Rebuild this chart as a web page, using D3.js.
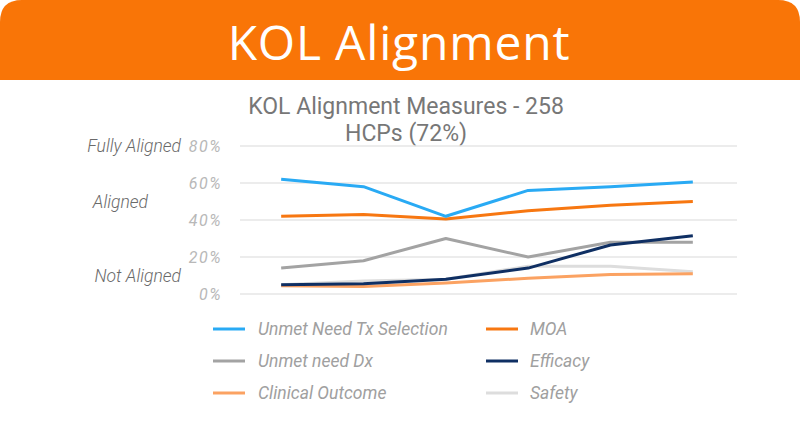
<!DOCTYPE html>
<html>
<head>
<meta charset="utf-8">
<script src="https://cdn.jsdelivr.net/npm/d3@7"></script>
<style>
  body { margin: 0; background: #fff; }
  svg { display: block; }
</style>
</head>
<body>
<div id="container"></div>
<script>

// data
var points = ["P1", "P2", "P3", "P4", "P5", "P6"];
var seriesNames = ["Unmet Need Tx Selection", "MOA", "Unmet need Dx", "Efficacy", "Clinical Outcome", "Safety"];
var seriesColors = ["#29aaf4", "#f77711", "#a3a3a3", "#0f2f63", "#fba262", "#dddddd"];
var unmetTx  = [62, 58, 42, 56, 58, 60.5];
var moa      = [42, 43, 40.5, 45, 48, 50];
var unmetDx  = [14, 18, 30, 20, 28, 28];
var efficacy = [5, 5.5, 8, 14, 26.5, 31.5];
var clinical = [4.5, 4, 6, 8.5, 10.5, 11];
var safety   = [5, 7, 8, 15, 15, 12];
var yTicks = [0, 20, 40, 60, 80];
var sideLabels = [["Fully Aligned", 80], ["Aligned", 50], ["Not Aligned", 10]];

var allSeries = [unmetTx, moa, unmetDx, efficacy, clinical, safety];
// draw order: light lines first
var drawOrder = [5, 4, 2, 1, 0, 3];

var width = 800, height = 445;

var svg = d3.select("#container")
            .append("svg")
            .attr("width", width)
            .attr("height", height);

// header band with rounded top corners
var r = 22, hh = 80;
svg.append("path")
   .attr("d", "M0," + hh + " L0," + r + " Q0,0 " + r + ",0 L" + (width - r) + ",0 Q" + width + ",0 " + width + "," + r + " L" + width + "," + hh + " Z")
   .style("fill", "#f97507");

svg.append("text")
   .attr("x", 399)
   .attr("y", 60)
   .attr("text-anchor", "middle")
   .attr("font-family", "'Open Sans', sans-serif")
   .attr("font-weight", 400)
   .attr("font-size", "48px")
   .attr("letter-spacing", "0.8px")
   .style("fill", "#fff")
   .text("KOL Alignment");

// chart title
var title = svg.append("text")
   .attr("text-anchor", "middle")
   .attr("font-family", "Roboto, sans-serif")
   .attr("font-size", "23px")
   .style("fill", "#777");
title.append("tspan").attr("x", 406).attr("y", 114).text("KOL Alignment Measures - 258");
title.append("tspan").attr("x", 406).attr("y", 141).text("HCPs (72%)");

var x = d3.scaleBand()
          .domain(points)
          .range([240, 734]);

var y = d3.scaleLinear()
          .domain([0, 80])
          .range([294, 146]);

// gridlines
svg.append("g")
   .selectAll("line")
   .data(yTicks)
   .enter()
   .append("line")
   .attr("x1", 240)
   .attr("x2", 737)
   .attr("y1", function(d){ return y(d); })
   .attr("y2", function(d){ return y(d); })
   .style("stroke", "#e6e6e6")
   .style("stroke-width", 1.5);

// y tick labels
svg.append("g")
   .selectAll("text")
   .data(yTicks)
   .enter()
   .append("text")
   .attr("x", 222)
   .attr("y", function(d){ return y(d) + 6; })
   .attr("text-anchor", "end")
   .attr("font-family", "Roboto, sans-serif")
   .attr("font-style", "italic")
   .attr("font-size", "16px")
   .attr("letter-spacing", "1.5px")
   .style("fill", "#b8b8b8")
   .text(function(d){ return d + "%"; });

// side labels
svg.append("g")
   .selectAll("text")
   .data(sideLabels)
   .enter()
   .append("text")
   .attr("x", function(d){ return d[0] == "Aligned" ? 148 : 181; })
   .attr("y", function(d){ return y(d[1]) + 6; })
   .attr("text-anchor", "end")
   .attr("font-family", "Roboto, sans-serif")
   .attr("font-style", "italic")
   .attr("font-weight", 300)
   .attr("font-size", "17.5px")
   .style("fill", "#6a6a6a")
   .text(function(d){ return d[0]; });

var line = d3.line()
             .x(function(d, i){ return x(points[i]) + x.bandwidth() / 2; })
             .y(function(d){ return y(d); });

svg.append("g")
   .selectAll("path")
   .data(drawOrder)
   .enter()
   .append("path")
   .attr("d", function(k){ return line(allSeries[k]); })
   .style("fill", "none")
   .style("stroke", function(k){ return seriesColors[k]; })
   .style("stroke-width", 3)
   .style("stroke-linejoin", "round");

// legend
var legend = svg.append("g");

legend.selectAll("line")
      .data(seriesNames)
      .enter()
      .append("line")
      .attr("x1", function(d, i){ return i % 2 ? 486 : 213; })
      .attr("x2", function(d, i){ return i % 2 ? 518 : 245; })
      .attr("y1", function(d, i){ return 329 + 32 * Math.floor(i / 2); })
      .attr("y2", function(d, i){ return 329 + 32 * Math.floor(i / 2); })
      .style("stroke", function(d, i){ return seriesColors[i]; })
      .style("stroke-width", 3);

legend.selectAll("text")
      .data(seriesNames)
      .enter()
      .append("text")
      .attr("x", function(d, i){ return i % 2 ? 530 : 258; })
      .attr("y", function(d, i){ return 335 + 32 * Math.floor(i / 2); })
      .attr("font-family", "Roboto, sans-serif")
      .attr("font-style", "italic")
      .attr("font-size", "17.5px")
      .style("fill", "#a0a0a0")
      .text(function(d){ return d; });

</script>
</body>
</html>
